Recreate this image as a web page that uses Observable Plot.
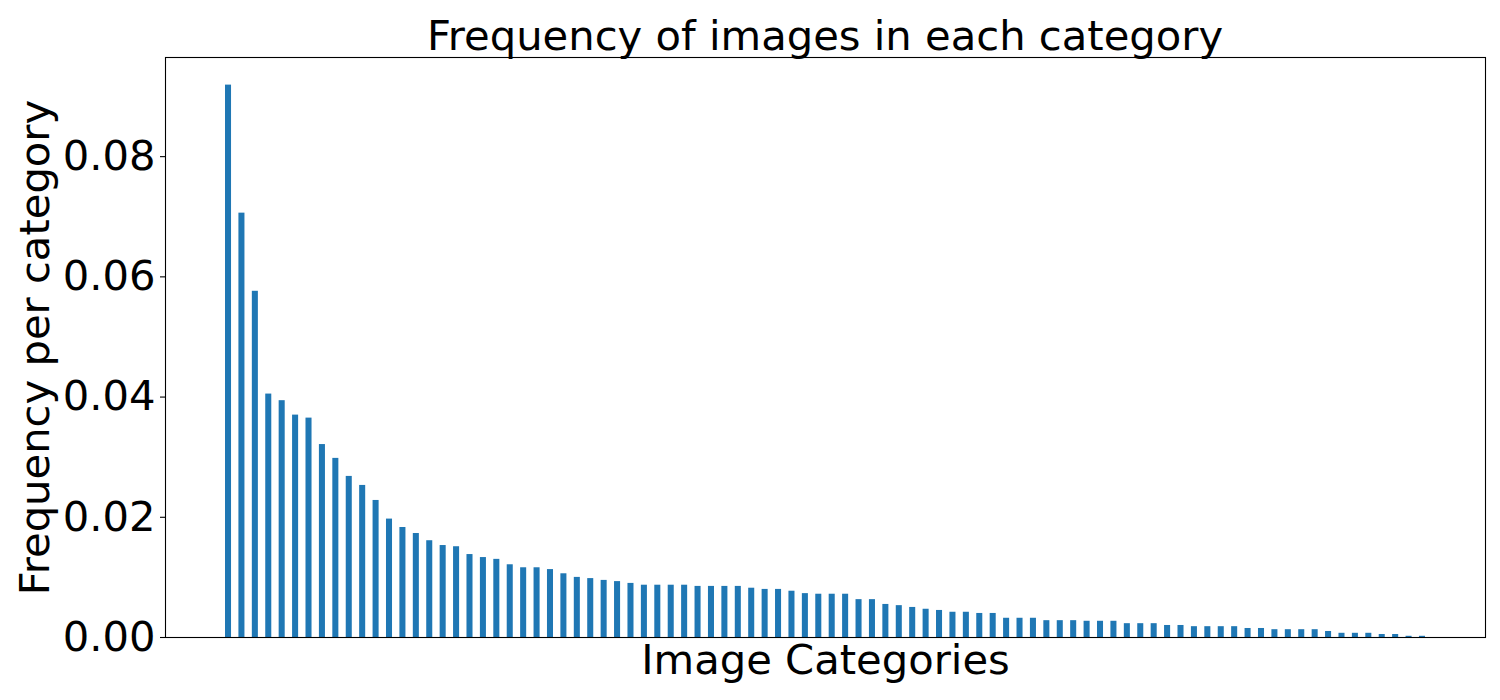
<!DOCTYPE html>
<html>
<head>
<meta charset="utf-8">
<script src="https://cdn.jsdelivr.net/npm/d3@7"></script>
<script src="https://cdn.jsdelivr.net/npm/@observablehq/plot@0.6"></script>
<style>
  html, body { margin: 0; padding: 0; background: #fff; }
  #title {
    width: 1500px; height: 55px; box-sizing: border-box;
    padding-left: 165px; padding-right: 15px; padding-top: 15px;
    font-family: "DejaVu Sans", sans-serif; font-size: 41.7px; line-height: 1;
    text-align: center; color: #000; white-space: nowrap; overflow: visible;
  }
</style>
</head>
<body>
<div id="title">Frequency of images in each category</div>
<div id="chart"></div>
<script>
// Frequency per category, sorted descending
const frequencies = [
  0.0919, 0.0706, 0.0576, 0.0405, 0.0394, 0.0370, 0.0365, 0.0321, 0.0298, 0.0268,
  0.0253, 0.0228, 0.0197, 0.0183, 0.0173, 0.0161, 0.0153, 0.0151, 0.0138, 0.0133,
  0.0130, 0.0121, 0.0116, 0.0116, 0.0113, 0.0106, 0.0100, 0.0098, 0.0095, 0.0093,
  0.0090, 0.0087, 0.0087, 0.0087, 0.0087, 0.0085, 0.0085, 0.0085, 0.0085, 0.0082,
  0.0080, 0.0080, 0.0077, 0.0073, 0.0072, 0.0072, 0.0072, 0.0063, 0.0063, 0.0055,
  0.0053, 0.0050, 0.0047, 0.0045, 0.0042, 0.0042, 0.0040, 0.0040, 0.0032, 0.0032,
  0.0032, 0.0028, 0.0028, 0.0028, 0.0027, 0.0027, 0.0027, 0.0023, 0.0023, 0.0023,
  0.0020, 0.0020, 0.0018, 0.0018, 0.0018, 0.0018, 0.0015, 0.0015, 0.0013, 0.0013,
  0.0013, 0.0013, 0.0010, 0.0007, 0.0007, 0.0007, 0.0005, 0.0005, 0.0002, 0.0002
];
// Category positions (unlabelled in the reference)
const categories = d3.range(frequencies.length);
const yTicks = [0, 0.02, 0.04, 0.06, 0.08];
const titleText = "Frequency of images in each category";
const xLabel = "Image Categories";
const yLabel = "Frequency per category";

const barWidth = 0.45;
const n = categories.length;
const span = (n - 1) + barWidth;
const xDomain = [-barWidth / 2 - 0.05 * span, (n - 1) + barWidth / 2 + 0.05 * span];
const yMax = d3.max(frequencies) * 1.05;

const data = categories.map((c, i) => ({cat: c, v: frequencies[i]}));

const chart = Plot.plot({
  width: 1500,
  height: 645,
  marginTop: 2,
  marginLeft: 165,
  marginRight: 15,
  marginBottom: 63,
  style: {fontFamily: "DejaVu Sans, sans-serif", color: "#000", background: "#fff", overflow: "visible"},
  x: {type: "linear", domain: xDomain, axis: null},
  y: {domain: [0, yMax], axis: null},
  marks: [
    Plot.rectY(data, {x1: d => d.cat - barWidth / 2, x2: d => d.cat + barWidth / 2, y: "v", fill: "#1f77b4"}),
    Plot.axisY({ticks: yTicks, tickFormat: d3.format(".2f"), tickSize: 5, tickPadding: 5, fontSize: 41.7, label: null, stroke: "#000", strokeWidth: 1.1}),
    Plot.frame({stroke: "#000", strokeWidth: 1.1}),
    Plot.text([xLabel], {frameAnchor: "bottom", text: d => d, fontSize: 41.7, dy: 23, lineAnchor: "middle", textAnchor: "middle", fill: "#000"}),
    Plot.text([yLabel], {frameAnchor: "left", text: d => d, fontSize: 41.7, rotate: -90, dx: -130, lineAnchor: "middle", textAnchor: "middle", fill: "#000"})
  ]
});
document.getElementById("chart").appendChild(chart);
</script>
</body>
</html>
